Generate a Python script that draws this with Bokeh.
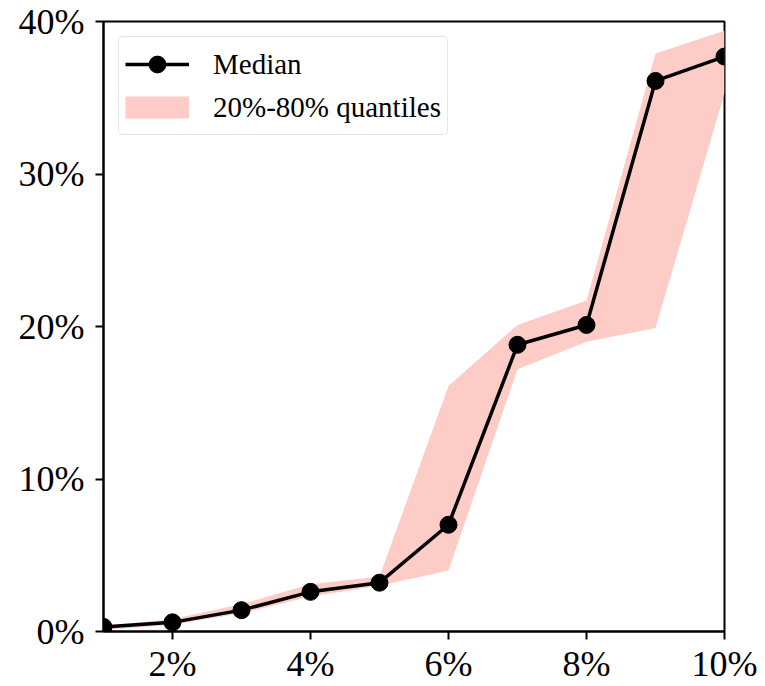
from bokeh.plotting import figure
from bokeh.models import Range1d, FixedTicker, PrintfTickFormatter, Legend, LegendItem
from bokeh.embed import file_html
from bokeh.resources import INLINE

# data (percent)
noise_level = [1, 2, 3, 4, 5, 6, 7, 8, 9, 10]
median = [0.3, 0.6, 1.4, 2.6, 3.2, 7.0, 18.8, 20.1, 36.1, 37.7]
q20 = [0.1, 0.45, 1.2, 2.3, 3.0, 4.0, 17.2, 19.0, 19.9, 35.3]
q80 = [0.4, 0.8, 1.8, 3.1, 3.6, 16.1, 20.1, 21.7, 37.9, 39.4]
x_ticks = [2, 4, 6, 8, 10]
y_ticks = [0, 10, 20, 30, 40]

FONT = "Liberation Serif"
BAND = "#fdccc7"

p = figure(width=765, height=686, x_range=Range1d(1, 10), y_range=Range1d(0, 40),
           output_backend="svg", toolbar_location=None,
           min_border_left=103, min_border_right=41, min_border_top=21, min_border_bottom=55)
p.border_fill_color = "white"
p.xgrid.visible = False
p.ygrid.visible = False
p.outline_line_color = "black"
p.outline_line_width = 2
p.outline_line_alpha = 1

p.xaxis.ticker = FixedTicker(ticks=x_ticks)
p.yaxis.ticker = FixedTicker(ticks=y_ticks)
for ax in (p.xaxis[0], p.yaxis[0]):
    ax.formatter = PrintfTickFormatter(format="%d%%")
    ax.axis_line_color = "black"
    ax.axis_line_width = 2
    ax.major_tick_line_color = "black"
    ax.major_tick_line_width = 2
    ax.major_tick_out = 8
    ax.major_tick_in = 0
    ax.minor_tick_line_color = None
    ax.major_label_text_font = FONT
    ax.major_label_text_font_size = "36px"
    ax.major_label_text_color = "black"
p.xaxis.major_label_standoff = 4
p.yaxis.major_label_standoff = 11

band = p.varea(x=noise_level, y1=q20, y2=q80, fill_color=BAND, fill_alpha=1)
ln = p.line(noise_level, median, line_color="black", line_width=3.5, line_join="round")
pts = p.scatter(noise_level, median, size=17, fill_color="black", line_color="black")
nan = float("nan")
swatch = p.line(x=[nan, nan], y=[nan, nan], line_color=BAND, line_width=22, line_cap="butt")

legend = Legend(items=[LegendItem(label="Median", renderers=[ln, pts]),
                       LegendItem(label="20%-80% quantiles", renderers=[swatch])],
                location="top_left")
legend.margin = 15
legend.padding = 6
legend.spacing = 1
legend.glyph_width = 64
legend.glyph_height = 42
legend.label_height = 42
legend.label_standoff = 24
legend.label_text_font = FONT
legend.label_text_font_size = "29px"
legend.label_text_color = "black"
legend.border_line_color = "#cccccc"
legend.border_line_width = 1.5
legend.background_fill_color = "white"
legend.background_fill_alpha = 0.8
try:
    legend.border_radius = 5
except Exception:
    pass
p.add_layout(legend)

open("out.html", "w").write(file_html(p, INLINE))
